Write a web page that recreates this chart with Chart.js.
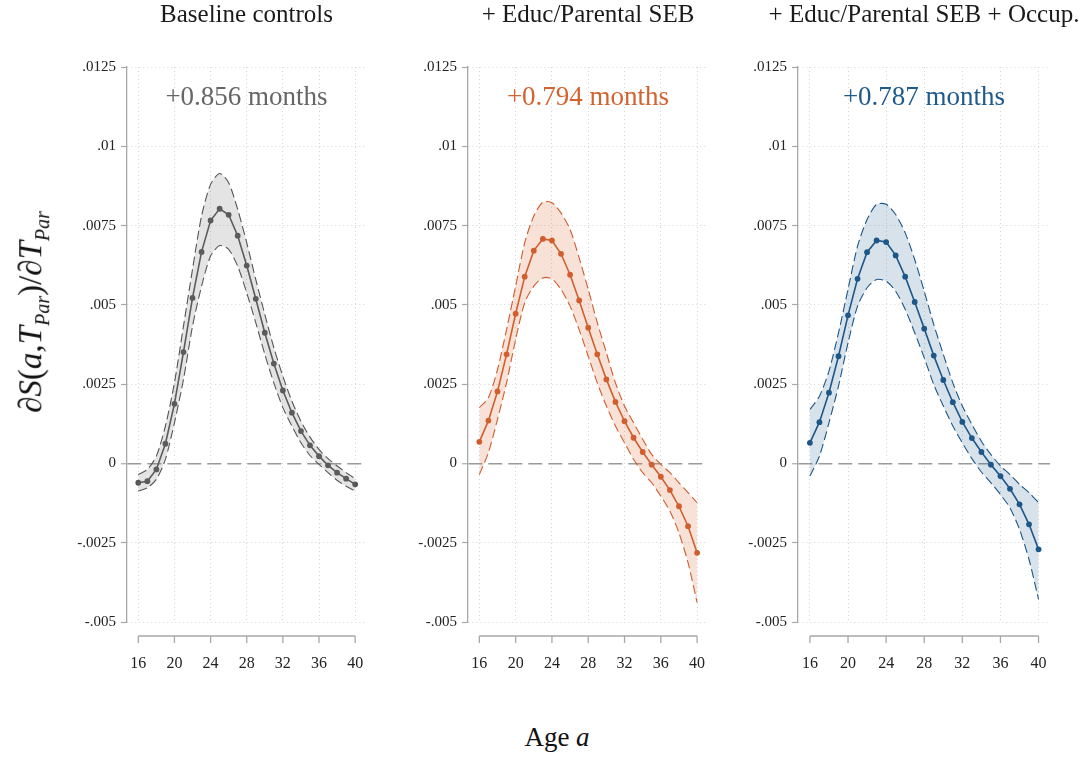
<!DOCTYPE html>
<html>
<head>
<meta charset="utf-8">
<script src="https://cdn.jsdelivr.net/npm/chart.js@4.4.1/dist/chart.umd.min.js"></script>
<style>
  body { margin: 0; background: #fff; font-family: "Liberation Serif", serif; }
  #wrap { position: relative; width: 1090px; height: 760px; overflow: hidden; }
  canvas { position: absolute; top: 0; }
  #ytitle {
    position: absolute; left: 33px; top: 312px;
    transform: translate(-50%, -50%) rotate(-90deg);
    font-size: 33px; white-space: nowrap; color: #111;
  }
  #ytitle sub { font-size: 20px; }
  #xtitle {
    position: absolute; left: 557px; top: 737px;
    transform: translate(-50%, -50%);
    font-size: 27px; white-space: nowrap; color: #111;
  }
</style>
</head>
<body>
<div id="wrap">
  <canvas id="panel1" width="380" height="700" style="left:0px"></canvas>
  <canvas id="panel2" width="340" height="700" style="left:380px"></canvas>
  <canvas id="panel3" width="370" height="700" style="left:720px"></canvas>
  <div id="ytitle">∂<i>S</i>(<i>a</i>,<i>T</i><sub><i>Par</i></sub>)/∂<i>T</i><sub><i>Par</i></sub></div>
  <div id="xtitle">Age <i>a</i></div>
</div>
<script>
// ages and axis ticks
const ages = [16, 17, 18, 19, 20, 21, 22, 23, 24, 25, 26, 27, 28, 29, 30, 31, 32, 33, 34, 35, 36, 37, 38, 39, 40];
const xTicks = [16, 20, 24, 28, 32, 36, 40];
const yTicks = [-0.005, -0.0025, 0, 0.0025, 0.005, 0.0075, 0.01, 0.0125];
const yTickLabels = ['-.005', '-.0025', '0', '.0025', '.005', '.0075', '.01', '.0125'];

const titles = ['Baseline controls', '+ Educ/Parental SEB', '+ Educ/Parental SEB + Occup.'];
const notes = ['+0.856 months', '+0.794 months', '+0.787 months'];

// Baseline controls
const baseMid = [-0.00061, -0.00056, -0.00019, 0.00062, 0.00188, 0.00351, 0.00522, 0.00667, 0.00766, 0.00803,
  0.00784, 0.00718, 0.00624, 0.00519, 0.00412, 0.00315, 0.00230, 0.00160, 0.00102, 0.00057,
  0.00023, -0.00006, -0.00029, -0.00048, -0.00066];
const baseUpper = [-0.00035, -0.00019, 0.00023, 0.00118, 0.00254, 0.00433, 0.00612, 0.00780, 0.00880, 0.00914,
  0.00885, 0.00801, 0.00696, 0.00580, 0.00470, 0.00365, 0.00275, 0.00196, 0.00133, 0.00083,
  0.00044, 0.00015, -0.00008, -0.00029, -0.00048];
const baseLower = [-0.00087, -0.00077, -0.00050, 0.00013, 0.00128, 0.00265, 0.00433, 0.00559, 0.00654, 0.00687,
  0.00675, 0.00622, 0.00538, 0.00444, 0.00344, 0.00254, 0.00176, 0.00118, 0.00065, 0.00025,
  -0.00003, -0.00029, -0.00053, -0.00072, -0.00087];

// + Educ/Parental SEB
const educMid = [0.00068, 0.00135, 0.00227, 0.00344, 0.00472, 0.00589, 0.00671, 0.00708, 0.00703, 0.00661,
  0.00595, 0.00514, 0.00428, 0.00344, 0.00265, 0.00194, 0.00133, 0.00081, 0.00036, -0.00004,
  -0.00042, -0.00084, -0.00135, -0.00198, -0.00282];
const educUpper = [0.00176, 0.00207, 0.00296, 0.00422, 0.00559, 0.00696, 0.00780, 0.00824, 0.00822, 0.00790,
  0.00738, 0.00648, 0.00549, 0.00444, 0.00349, 0.00254, 0.00181, 0.00128, 0.00076, 0.00028,
  -0.00003, -0.00029, -0.00061, -0.00092, -0.00124];
const educLower = [-0.00035, 0.00034, 0.00139, 0.00254, 0.00391, 0.00507, 0.00559, 0.00585, 0.00582, 0.00549,
  0.00496, 0.00422, 0.00338, 0.00254, 0.00181, 0.00118, 0.00065, 0.00013, -0.00029, -0.00061,
  -0.00103, -0.00150, -0.00219, -0.00313, -0.00439];

// + Educ/Parental SEB + Occup.
const occMid = [0.00065, 0.00130, 0.00223, 0.00338, 0.00467, 0.00582, 0.00666, 0.00703, 0.00698, 0.00656,
  0.00589, 0.00509, 0.00425, 0.00340, 0.00263, 0.00193, 0.00131, 0.00080, 0.00036, -0.00004,
  -0.00040, -0.00080, -0.00129, -0.00192, -0.00271];
const occUpper = [0.00170, 0.00212, 0.00291, 0.00412, 0.00549, 0.00685, 0.00769, 0.00817, 0.00817, 0.00785,
  0.00727, 0.00643, 0.00543, 0.00438, 0.00344, 0.00254, 0.00181, 0.00123, 0.00070, 0.00028,
  -0.00008, -0.00035, -0.00066, -0.00092, -0.00124];
const occLower = [-0.00040, 0.00023, 0.00128, 0.00244, 0.00380, 0.00496, 0.00554, 0.00580, 0.00575, 0.00543,
  0.00486, 0.00412, 0.00333, 0.00249, 0.00181, 0.00118, 0.00065, 0.00015, -0.00027, -0.00061,
  -0.00098, -0.00140, -0.00208, -0.00303, -0.00429];

const FONT = '"Liberation Serif", serif';

function pts(vals) {
  return ages.map((a, i) => ({ x: a, y: vals[i] }));
}

// panel title above the plot, and the months note inside it
const panelText = {
  id: 'panelText',
  afterDraw(chart, args, opts) {
    const { ctx, chartArea } = chart;
    const cx = (chartArea.left + chartArea.right) / 2;
    ctx.save();
    ctx.textAlign = 'center';
    ctx.textBaseline = 'middle';
    ctx.fillStyle = '#1a1a1a';
    ctx.font = '25px ' + FONT;
    ctx.fillText(opts.title, cx, 15);
    ctx.fillStyle = opts.noteColor;
    ctx.font = '27px ' + FONT;
    ctx.fillText(opts.note, cx, chartArea.top + 31);
    ctx.restore();
  }
};

// x axis line sits a bit below the plot region, from first to last tick
const xAxisLine = {
  id: 'xAxisLine',
  afterDraw(chart) {
    const { ctx, chartArea } = chart;
    const sx = chart.scales.x;
    const y0 = chartArea.bottom + 14;
    ctx.save();
    ctx.strokeStyle = '#a8a8a8';
    ctx.lineWidth = 1.3;
    ctx.beginPath();
    ctx.moveTo(sx.getPixelForValue(xTicks[0]), y0);
    ctx.lineTo(sx.getPixelForValue(xTicks[xTicks.length - 1]), y0);
    xTicks.forEach(t => {
      const px = sx.getPixelForValue(t);
      ctx.moveTo(px, y0);
      ctx.lineTo(px, y0 + 7);
    });
    ctx.stroke();
    ctx.restore();
  }
};

function makePanel(id, idx, mid, upper, lower, color, fill, noteColor, yWidth, padRight) {
  return new Chart(document.getElementById(id).getContext('2d'), {
    type: 'line',
    data: {
      datasets: [
        {
          data: pts(upper),
          borderColor: color,
          borderWidth: 1.1,
          borderDash: [9, 4],
          backgroundColor: fill,
          fill: '+1',
          pointRadius: 0,
          tension: 0.25,
        },
        {
          data: pts(lower),
          borderColor: color,
          borderWidth: 1.1,
          borderDash: [9, 4],
          fill: false,
          pointRadius: 0,
          tension: 0.25,
        },
        {
          data: pts(mid),
          borderColor: color,
          borderWidth: 1.6,
          backgroundColor: color,
          pointBackgroundColor: color,
          pointBorderWidth: 0,
          pointRadius: 2.9,
          fill: false,
          tension: 0,
        },
      ],
    },
    options: {
      responsive: false,
      animation: false,
      layout: { padding: { top: 67, right: padRight, left: 0, bottom: 0 } },
      plugins: {
        legend: { display: false },
        tooltip: { enabled: false },
        panelText: { title: titles[idx], note: notes[idx], noteColor: noteColor },
      },
      scales: {
        x: {
          type: 'linear',
          min: 14.75,
          max: 41.2,
          afterBuildTicks: s => { s.ticks = xTicks.map(v => ({ value: v })); },
          afterFit: s => { s.height = 78; },
          ticks: { color: '#222', font: { family: FONT, size: 16 }, padding: 3, maxRotation: 0, autoSkip: false },
          // invisible tick marks only push the labels down below the axis line
          grid: { color: '#d4d4d4', lineWidth: 1, drawTicks: true, tickLength: 29, tickColor: 'rgba(0,0,0,0)' },
          border: { display: false, dash: [1, 3] },
        },
        y: {
          min: -0.005,
          max: 0.0125,
          afterBuildTicks: s => { s.ticks = yTicks.map(v => ({ value: v })); },
          afterFit: s => { s.width = yWidth; },
          ticks: {
            color: '#222',
            font: { family: FONT, size: 15 },
            padding: 5,
            callback: (v) => yTickLabels[yTicks.indexOf(v)],
          },
          grid: {
            color: c => (c.tick && c.tick.value === 0 ? '#9a9a9a' : '#d4d4d4'),
            lineWidth: c => (c.tick && c.tick.value === 0 ? 1.5 : 1),
            tickLength: 6,
            tickColor: '#a8a8a8',
            tickWidth: 1.2,
          },
          border: {
            color: '#a8a8a8',
            width: 1.3,
            dash: c => (c.tick && c.tick.value === 0 ? [14, 6] : [1, 3]),
          },
        },
      },
    },
    plugins: [panelText, xAxisLine],
  });
}

makePanel('panel1', 0, baseMid, baseUpper, baseLower, '#545454', 'rgba(120,120,120,0.2)', '#666666', 127, 14);
makePanel('panel2', 1, educMid, educUpper, educLower, '#cf5b2c', 'rgba(218,110,60,0.2)', '#d2622f', 88, 12);
makePanel('panel3', 2, occMid, occUpper, occLower, '#1c5687', 'rgba(40,95,145,0.18)', '#1f5a8c', 78, 40);
</script>
</body>
</html>
